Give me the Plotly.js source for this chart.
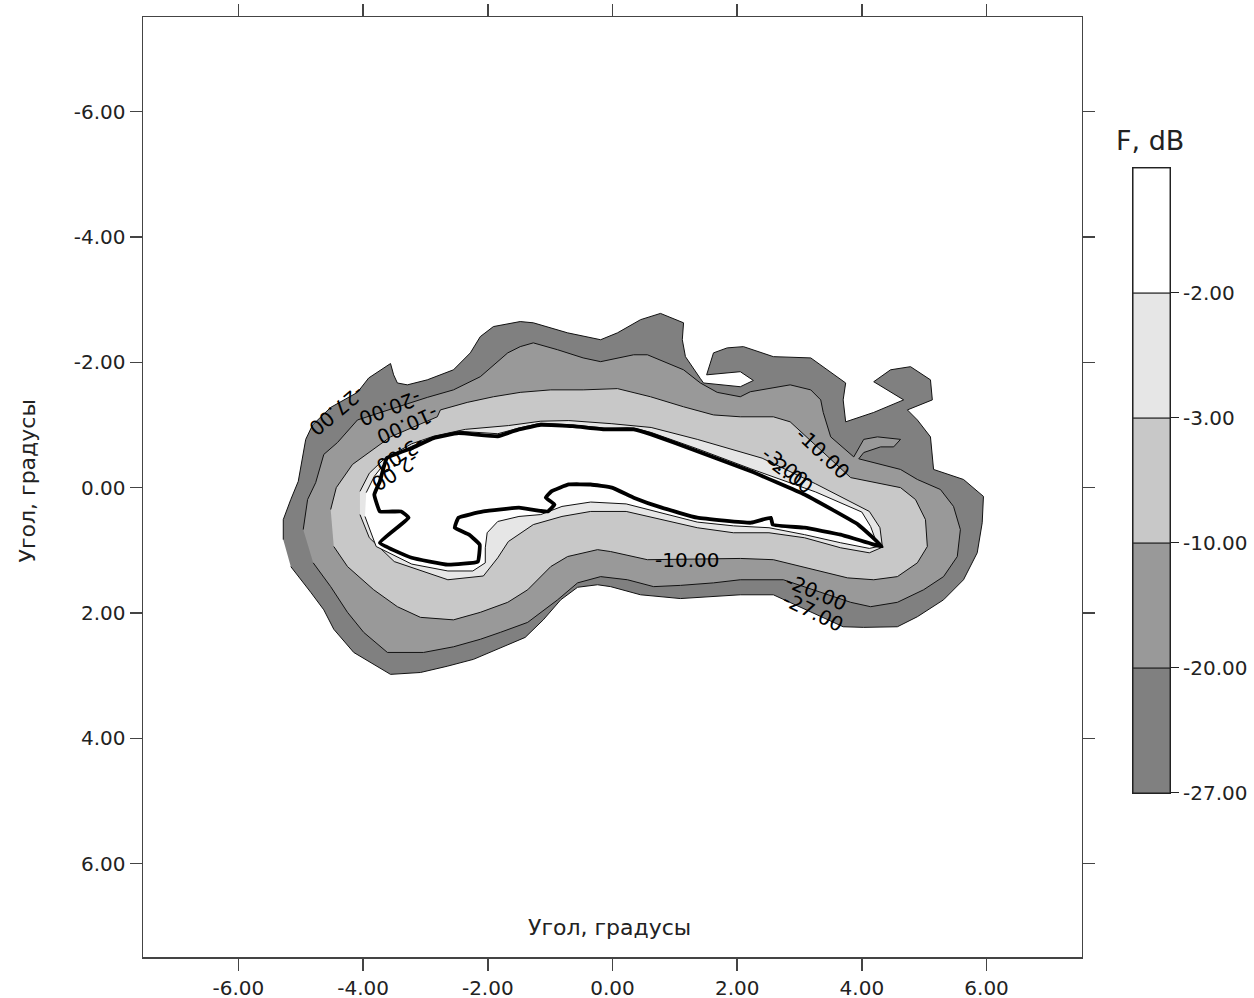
<!DOCTYPE html>
<html>
<head>
<meta charset="utf-8">
<script src="https://cdn.plot.ly/plotly-3.0.1.min.js"></script>
<style>html,body{margin:0;padding:0;background:#fff;}#chart{width:1254px;height:998px;}</style>
</head>
<body>
<div id="chart"></div>
<script>
// ---- contour outlines (data units) ----
const lvl27X = [-5.28,-5.28,-5.16,-5.04,-4.92,-4.81,-4.52,-4.09,-3.91,-3.56,-3.51,-3.45,-3.29,-2.97,-2.55,-2.28,-2.12,-1.91,-1.48,-1.27,-0.72,-0.19,0.08,0.45,0.77,1.14,1.12,1.17,1.41,1.46,2.05,2.26,2.05,1.51,1.62,1.84,2.10,2.58,3.18,3.38,3.74,3.70,3.74,4.19,4.67,4.19,4.46,4.78,5.10,5.13,4.73,4.89,5.10,5.15,5.63,5.95,5.93,5.85,5.63,5.31,4.89,4.57,4.03,3.70,2.58,2.05,1.62,1.09,0.45,-0.03,-0.24,-0.56,-0.83,-1.11,-1.40,-1.84,-2.23,-2.65,-3.08,-3.56,-4.15,-4.47,-4.63,-4.84,-5.16];
const lvl27Y = [0.83,0.51,0.19,-0.10,-0.77,-1.00,-1.28,-1.52,-1.75,-1.98,-1.80,-1.67,-1.64,-1.72,-1.88,-2.15,-2.41,-2.57,-2.65,-2.63,-2.47,-2.36,-2.47,-2.68,-2.78,-2.63,-2.36,-2.09,-1.74,-1.67,-1.61,-1.71,-1.85,-1.80,-2.15,-2.23,-2.25,-2.09,-2.07,-1.93,-1.67,-1.40,-1.05,-1.20,-1.40,-1.69,-1.88,-1.93,-1.72,-1.40,-1.24,-1.08,-0.81,-0.29,-0.13,0.14,0.56,1.04,1.47,1.79,2.06,2.22,2.23,2.22,1.71,1.71,1.74,1.77,1.71,1.58,1.55,1.59,1.79,2.11,2.39,2.58,2.74,2.85,2.95,2.98,2.63,2.26,1.95,1.67,1.26];

const lvl20X = [-4.96,-4.89,-4.76,-4.63,-4.41,-4.09,-2.97,-2.55,-2.12,-1.68,-1.48,-1.27,-0.88,-0.47,-0.19,0.34,0.56,1.14,1.41,1.68,2.05,2.21,2.85,3.18,3.34,3.38,3.50,3.87,4.03,4.25,4.62,4.51,4.30,4.03,3.95,4.19,4.62,4.89,5.26,5.47,5.58,5.53,5.31,4.99,4.57,4.14,3.82,2.74,2.05,1.62,1.09,0.66,0.24,-0.19,-0.56,-0.88,-1.36,-1.80,-2.12,-2.55,-3.03,-3.61,-3.99,-4.25,-4.52,-4.80];
const lvl20Y = [0.67,0.19,-0.08,-0.53,-0.72,-1.08,-1.44,-1.56,-1.77,-2.15,-2.25,-2.31,-2.20,-2.07,-2.01,-2.12,-2.12,-1.88,-1.67,-1.52,-1.45,-1.53,-1.64,-1.56,-1.40,-1.20,-0.81,-0.49,-0.77,-0.81,-0.77,-0.65,-0.65,-0.56,-0.46,-0.40,-0.29,-0.13,0.03,0.30,0.67,1.10,1.42,1.63,1.83,1.90,1.83,1.47,1.47,1.52,1.56,1.58,1.47,1.42,1.52,1.79,2.15,2.31,2.42,2.54,2.63,2.63,2.31,1.99,1.58,1.20];

const lvl10X = [-4.52,-4.43,-4.17,-3.83,-3.56,-2.81,-2.76,-2.33,-1.91,-1.48,-0.99,-0.47,0.08,0.61,1.14,1.62,2.05,2.58,2.85,3.82,4.22,4.62,4.86,5.02,5.05,4.89,4.57,4.19,3.77,3.22,2.58,2.05,0.56,-0.03,-0.24,-0.72,-0.99,-1.36,-1.68,-2.12,-2.55,-3.08,-3.45,-3.83,-4.25,-4.47];
const lvl10Y = [0.35,0.00,-0.37,-0.61,-0.81,-1.13,-1.24,-1.36,-1.45,-1.52,-1.56,-1.56,-1.58,-1.45,-1.29,-1.16,-1.13,-1.13,-1.05,-0.16,-0.08,0.00,0.19,0.51,0.94,1.20,1.42,1.47,1.44,1.31,1.15,1.13,1.15,1.02,0.99,1.10,1.26,1.63,1.83,1.99,2.11,2.07,1.90,1.63,1.26,0.94];

const lvl3X = [-4.05,-3.90,-3.67,-3.22,-2.87,-2.36,-1.67,-1.15,-0.70,-0.01,0.62,1.36,2.40,3.08,3.26,4.12,4.29,4.33,4.12,3.66,3.08,2.51,1.94,1.36,0.79,0.22,-0.35,-0.81,-1.27,-1.67,-1.84,-2.07,-2.64,-3.50,-3.90,-4.05];
const lvl3Y = [0.06,-0.23,-0.45,-0.70,-0.82,-0.93,-0.99,-1.06,-1.07,-1.02,-0.96,-0.77,-0.47,-0.15,-0.06,0.38,0.64,0.95,1.04,0.96,0.80,0.72,0.72,0.64,0.51,0.38,0.38,0.46,0.59,0.86,1.12,1.41,1.47,1.18,0.80,0.43];

const lvl2X = [-3.95,-3.82,-3.59,-3.22,-2.87,-2.47,-1.84,-1.50,-1.15,-0.64,-0.12,0.34,0.62,1.36,2.22,2.80,3.26,4.00,4.14,4.26,4.12,3.66,3.08,2.51,1.94,1.36,0.79,0.22,-0.35,-0.81,-1.15,-1.50,-1.84,-2.01,-2.04,-2.04,-2.24,-2.64,-3.22,-3.79,-3.97];
const lvl2Y = [0.08,-0.18,-0.47,-0.66,-0.81,-0.90,-0.86,-0.95,-1.03,-1.00,-0.95,-0.95,-0.88,-0.62,-0.30,-0.09,0.07,0.39,0.62,0.94,0.97,0.88,0.75,0.64,0.61,0.55,0.40,0.26,0.23,0.30,0.43,0.46,0.54,0.72,0.96,1.20,1.33,1.33,1.22,0.94,0.46];

const loopX = [4.32,3.94,3.08,2.22,1.36,0.62,0.34,-0.12,-0.64,-1.15,-1.50,-1.84,-2.47,-2.87,-3.22,-3.62,-3.73,-3.82,-3.73,-3.39,-3.27,-3.73,-3.22,-2.64,-2.16,-2.13,-2.30,-2.53,-2.47,-2.07,-1.50,-1.04,-0.93,-1.07,-0.98,-0.70,-0.35,-0.01,0.34,0.79,1.36,2.22,2.54,2.57,3.08,3.66,4.32];
const loopY = [0.94,0.59,0.11,-0.26,-0.58,-0.85,-0.93,-0.93,-0.98,-1.00,-0.93,-0.82,-0.87,-0.79,-0.63,-0.47,-0.10,0.11,0.38,0.38,0.48,0.88,1.12,1.23,1.18,0.91,0.75,0.64,0.48,0.38,0.32,0.38,0.27,0.16,0.06,-0.05,-0.05,0.00,0.16,0.32,0.48,0.56,0.48,0.59,0.64,0.75,0.94];

// contour labels
const labelText  = ['-27.00','-20.00','-10.00','-3.00','-2.00','-10.00','-3.00','-2.00','-10.00','-20.00','-27.00'];
const labelX     = [-4.41,-3.56,-3.29,-3.40,-3.48,3.37,2.77,2.85,1.20,3.26,3.22];
const labelY     = [-1.23,-1.28,-1.00,-0.53,-0.26,-0.56,-0.33,-0.22,1.15,1.67,1.98];
const labelAngle = [140,159,156,149,147,43,38,36,0,23,26];

// axis ticks
const tickVals = [-6,-4,-2,0,2,4,6];
const tickText = ['-6.00','-4.00','-2.00','0.00','2.00','4.00','6.00'];

// colour bar
const cbLabels = ['-27.00','-20.00','-10.00','-3.00','-2.00'];
const cbColors = ['#808080','#999999','#c8c8c8','#e6e6e6','#ffffff'];
const cbBase   = [0,1,2,3,4];
const cbSize   = [1,1,1,1,1];

const FONT = 'DejaVu Sans, Verdana, sans-serif';

function poly(x, y, fill) {
  return {type:'scatter', mode:'lines', x:x, y:y, fill:'toself', fillcolor:fill,
          line:{color:'#111', width:1}, hoverinfo:'skip', showlegend:false, xaxis:'x', yaxis:'y'};
}

const traces = [
  poly(lvl27X, lvl27Y, cbColors[0]),
  poly(lvl20X, lvl20Y, cbColors[1]),
  poly(lvl10X, lvl10Y, cbColors[2]),
  poly(lvl3X,  lvl3Y,  cbColors[3]),
  poly(lvl2X,  lvl2Y,  cbColors[4]),
  {type:'scatter', mode:'lines', x:loopX, y:loopY, line:{color:'#000', width:3.8, shape:'spline', smoothing:0.3},
   hoverinfo:'skip', showlegend:false, xaxis:'x', yaxis:'y'},
  {type:'bar', x:cbBase.map(()=>0), y:cbSize, base:cbBase, width:1,
   marker:{color:cbColors, line:{color:'#222', width:1}}, hoverinfo:'skip', showlegend:false, xaxis:'x2', yaxis:'y2'}
];

const annotations = labelText.map((t,i)=>({
  x:labelX[i], y:labelY[i], xref:'x', yref:'y', text:t, showarrow:false,
  xanchor:'center', yanchor:'middle',
  textangle:labelAngle[i], font:{family:FONT, size:20, color:'#000'}
}));
annotations.push({xref:'paper', yref:'paper', x:0.4434, y:0.0309, xanchor:'center', yanchor:'middle',
  text:'Угол, градусы', showarrow:false, font:{family:FONT, size:22, color:'#222'}});
annotations.push({xref:'paper', yref:'paper', x:-0.1104, y:0.507, xanchor:'center', yanchor:'middle',
  text:'Угол, градусы', showarrow:false, textangle:-90, font:{family:FONT, size:22, color:'#222'}});
annotations.push({xref:'paper', yref:'paper', x:0.958, y:0.869, xanchor:'center', yanchor:'middle',
  text:'F, dB', showarrow:false, font:{family:FONT, size:27, color:'#222'}});

const axisCommon = {showgrid:false, zeroline:false, showline:true, linecolor:'#444', linewidth:1.5,
  mirror:'ticks', ticks:'outside', ticklen:12, tickwidth:1.5, tickcolor:'#444',
  tickvals:tickVals, ticktext:tickText, tickfont:{family:FONT, size:20, color:'#222'}};

const layout = {
  width:1254, height:998,
  margin:{l:143, r:60, t:17, b:41},
  paper_bgcolor:'#fff', plot_bgcolor:'#fff',
  font:{family:FONT},
  showlegend:false,
  xaxis: Object.assign({}, axisCommon, {domain:[0,0.8934], range:[-7.53,7.53]}),
  yaxis: Object.assign({}, axisCommon, {domain:[0,1], range:[7.49,-7.51]}),
  xaxis2:{domain:[0.942,0.9772], anchor:'y2', range:[-0.5,0.5], showgrid:false, zeroline:false,
          showticklabels:false, ticks:'', showline:true, linecolor:'#222', linewidth:1, mirror:true, fixedrange:true},
  yaxis2:{domain:[0.1745,0.8394], anchor:'x2', side:'right', range:[0,5], showgrid:false, zeroline:false,
          tickvals:cbBase, ticktext:cbLabels, ticks:'outside', ticklen:8, tickcolor:'#222', tickwidth:1,
          showline:true, linecolor:'#222', linewidth:1, mirror:true,
          tickfont:{family:FONT, size:20, color:'#222'}},
  annotations:annotations
};

Plotly.newPlot('chart', traces, layout, {staticPlot:true, displayModeBar:false});
</script>
</body>
</html>
